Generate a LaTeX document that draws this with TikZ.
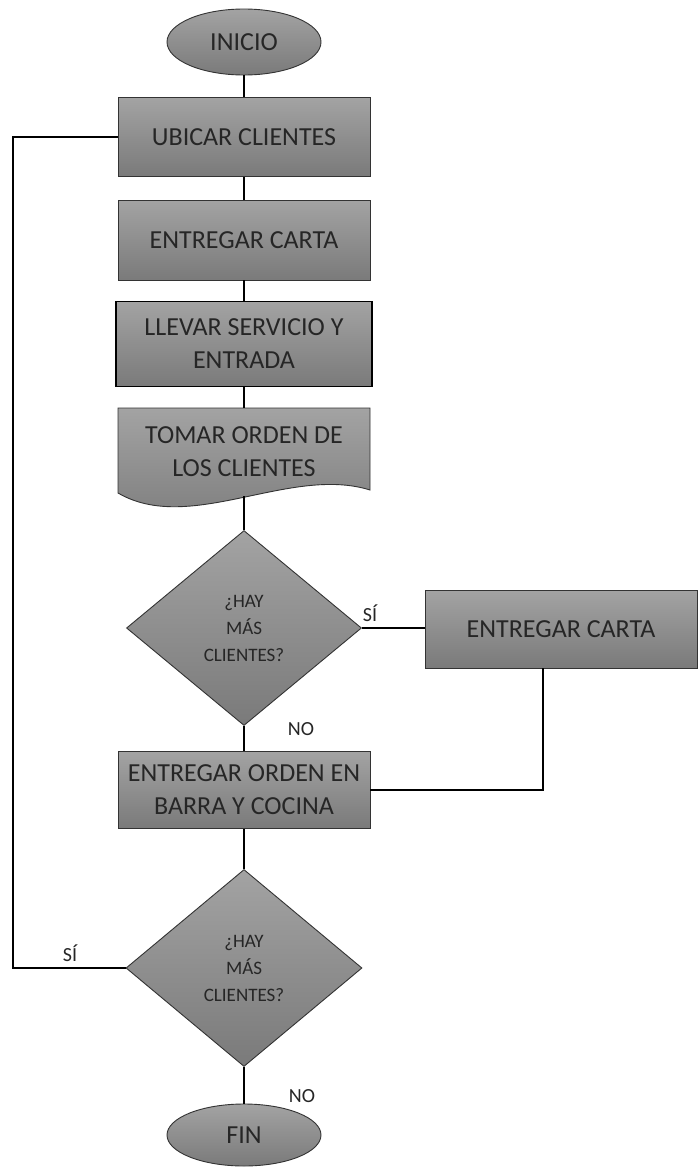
\documentclass[tikz,border=0pt]{standalone}
\usepackage{fontspec}
\setmainfont{Carlito}
\usetikzlibrary{shapes.geometric}
\definecolor{boxtop}{HTML}{A3A3A3}
\definecolor{boxbot}{HTML}{7A7A7A}
\definecolor{edge}{HTML}{333333}
\definecolor{txt}{HTML}{262626}
\begin{document}
\begin{tikzpicture}[x=1pt,y=-1pt,
 base/.style={draw=edge, line width=0.9pt, top color=boxtop, bottom color=boxbot, text=txt, align=center, inner sep=0pt},
 proc/.style={base, rectangle, minimum width=252pt, minimum height=79pt, font=\fontsize{26}{33}\selectfont},
 term/.style={base, ellipse, minimum width=154pt, minimum height=66pt, font=\fontsize{26}{30}\selectfont},
 decis/.style={base, diamond, font=\fontsize{19}{27}\selectfont},
 lbl/.style={font=\fontsize{20}{22}\selectfont, text=txt},
 conn/.style={line width=1.1pt, draw=black}]
\useasboundingbox (0,0) rectangle (700,1167);

\node[term] (inicio) at (244,42) {INICIO};
\node[proc] (ubicar) at (244,137) {UBICAR CLIENTES};
\node[proc, minimum height=80pt] (carta) at (244,240) {ENTREGAR CARTA};
\node[proc, draw=black, line width=1.8pt, minimum width=256pt, minimum height=85pt] (llevar) at (244,344) {LLEVAR SERVICIO Y\\ENTRADA};

% document shape
\path[base] (118,408) -- (370,408) -- (370,490) .. controls (290,465) and (190,535) .. (118,493) -- cycle;
\node[font=\fontsize{26}{33}\selectfont, text=txt, align=center] (tomar) at (244,452) {TOMAR ORDEN DE\\LOS CLIENTES};
\coordinate (tomartop) at (244,408);
\coordinate (tomarbot) at (244,496);

\node[decis, minimum width=235pt, minimum height=195pt] (d1) at (244,628) {¿HAY\\MÁS\\CLIENTES?};
\node[proc, minimum width=272pt, minimum height=78pt] (carta2) at (561,629) {ENTREGAR CARTA};
\node[proc, minimum height=77pt] (orden) at (244,790) {ENTREGAR ORDEN EN\\BARRA Y COCINA};
\node[decis, minimum width=236pt, minimum height=197pt] (d2) at (244,968) {¿HAY\\MÁS\\CLIENTES?};
\node[term, minimum height=62pt] (fin) at (244,1135) {FIN};

\coordinate (c2b) at (543,668);
\coordinate (loopx) at (13,968);

\draw[conn] (inicio.south) -- (ubicar.north);
\draw[conn] (ubicar.south) -- (carta.north);
\draw[conn] (carta.south) -- (llevar.north);
\draw[conn] (llevar.south) -- (tomartop);
\draw[conn] (tomarbot) -- (d1.north);
\draw[conn] (d1.east) -- (d1.east -| carta2.west);
\draw[conn] (c2b) |- (orden.east);
\draw[conn] (d1.south) -- (orden.north);
\draw[conn] (orden.south) -- (d2.north);
\draw[conn] (d2.south) -- (fin.north);
\draw[conn] (d2.west) -- (loopx) |- (ubicar.west);

\node[lbl] (si1) at (370,613) {SÍ};
\node[lbl] (no1) at (301,729) {NO};
\node[lbl] (si2) at (70,953) {SÍ};
\node[lbl] (no2) at (302,1096) {NO};
\end{tikzpicture}
\end{document}
